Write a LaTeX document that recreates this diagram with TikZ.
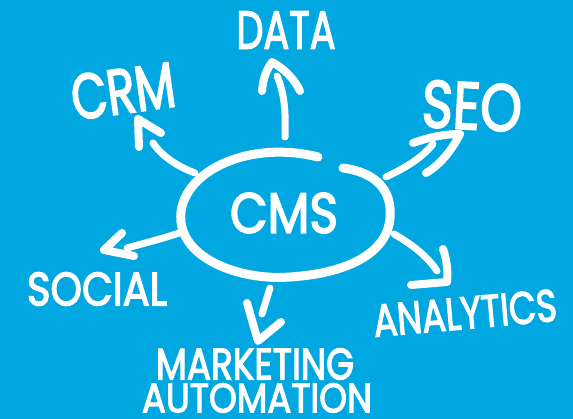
\documentclass[tikz,border=0pt]{standalone}
\usepackage{fontspec}
\usepackage{graphicx}
\setmainfont{Poppins}
\newfontfamily\handfont{Poppins}[FakeBold=3]
\definecolor{bgblue}{RGB}{0,167,224}
\tikzset{
  chalk/.style={draw=white, line width=7pt, line cap=round, line join=round},
  head/.style={draw=white, line width=8pt, line cap=round, line join=round},
  loop/.style={draw=white, line width=9pt, line cap=round, line join=round},
  word/.style={text=white, inner sep=0pt, anchor=center, font=\handfont}
}
\newcommand{\fitword}[3]{\resizebox{#1pt}{#2pt}{#3}}
\begin{document}
\begin{tikzpicture}[x=1pt,y=-1pt]
\fill[bgblue] (0,0) rectangle (573,419);
\useasboundingbox (0,0) rectangle (573,419);

% words
\node[word] (cms) at (284,213) {\fitword{108}{40}{CMS}};
\node[word] (data) at (286,30) {\fitword{99}{37}{DATA}};
\node[word, rotate=8] (crm) at (123,91) {\fitword{104}{45}{CRM}};
\node[word, rotate=-3] (seo) at (472,106) {\fitword{100}{47}{SEO}};
\node[word] (social) at (97,289) {\fitword{140}{33}{SOCIAL}};
\node[word, rotate=5] (analytics) at (465,313) {\fitword{184}{32}{ANALYTICS}};
\node[word] (marketing) at (255,364) {\fitword{198}{31}{MARKETING}};
\node[word] (automation) at (257,398) {\fitword{230}{29}{AUTOMATION}};

% ellipse loop
\coordinate (loopA) at (318,157);
\coordinate (loopB) at (343,168);
\draw[loop] (loopA) .. controls (250,140) and (186,170) .. (181,212)
  .. controls (176,258) and (240,281) .. (290,277)
  .. controls (352,273) and (394,250) .. (390,208)
  .. controls (388,186) and (372,172) .. (loopB);

% DATA arrow
\coordinate (d0) at (285,137); \coordinate (d1) at (277,76);
\coordinate (dt) at (272,62);
\draw[chalk] (d0) .. controls (286,110) and (284,92) .. (d1);
\draw[head] (262,91) .. controls (263,78) and (267,69) .. (dt)
  .. controls (283,68) and (294,78) .. (300,91);

% CRM arrow
\coordinate (c0) at (195,173); \coordinate (c1) at (153,143);
\coordinate (ct) at (138,119);
\draw[chalk] (c0) .. controls (176,166) and (161,155) .. (c1);
\draw[head] (139,147) -- (ct) -- (161,133);

% SEO arrow
\coordinate (s0) at (386,177); \coordinate (s1) at (433,144);
\coordinate (st) at (460,134);
\draw[chalk] (s0) .. controls (405,168) and (422,158) .. (s1);
\draw[head] (413,143) .. controls (430,137) and (445,134) .. (st)
  .. controls (452,150) and (440,165) .. (426,173);

% SOCIAL arrow
\coordinate (so0) at (182,232); \coordinate (so1) at (127,248);
\coordinate (sot) at (104,250);
\draw[chalk] (so0) .. controls (165,238) and (145,243) .. (so1);
\draw[head] (122,233) -- (sot) -- (134,256);

% MARKETING arrow
\coordinate (m0) at (270,288); \coordinate (m1) at (262,314);
\coordinate (mt) at (258,341);
\draw[chalk] (m0) -- (m1);
\draw[head] (247,303) -- (mt) -- (281,322);

% ANALYTICS arrow
\coordinate (a0) at (394,234); \coordinate (a1) at (437,271);
\coordinate (at) at (447,282);
\draw[chalk] (a0) .. controls (413,245) and (428,257) .. (a1);
\draw[head] (443,249) .. controls (447,260) and (448,272) .. (at) -- (411,285);
\end{tikzpicture}
\end{document}
